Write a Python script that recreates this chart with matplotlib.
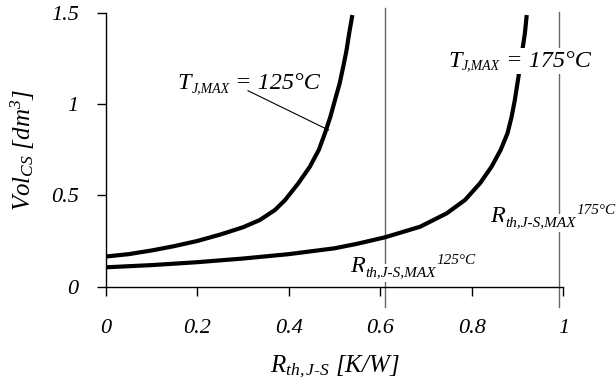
import matplotlib
matplotlib.use("Agg")
import matplotlib.pyplot as plt

plt.rcParams['font.family'] = ['Liberation Serif', 'DejaVu Serif']
plt.rcParams['font.style'] = 'italic'
plt.rcParams['mathtext.fontset'] = 'custom'
plt.rcParams['mathtext.it'] = 'Liberation Serif:italic'
plt.rcParams['mathtext.rm'] = 'Liberation Serif:italic'
plt.rcParams['mathtext.default'] = 'it'

# Data
rth_125 = [0.0, 0.05, 0.10, 0.15, 0.20, 0.25, 0.30, 0.337, 0.37, 0.392, 0.421,
           0.446, 0.466, 0.479, 0.491, 0.501, 0.511, 0.519, 0.526, 0.532, 0.539]
vol_125 = [0.165, 0.178, 0.198, 0.222, 0.25, 0.285, 0.325, 0.365, 0.42, 0.474, 0.566,
           0.656, 0.75, 0.839, 0.93, 1.021, 1.11, 1.203, 1.29, 1.386, 1.486]

rth_175 = [0.0, 0.10, 0.20, 0.30, 0.40, 0.50, 0.55, 0.61, 0.687, 0.745, 0.785,
           0.818, 0.843, 0.863, 0.878, 0.887, 0.894, 0.902, 0.909, 0.916, 0.920]
vol_175 = [0.106, 0.118, 0.134, 0.154, 0.178, 0.21, 0.235, 0.27, 0.328, 0.401, 0.474,
           0.566, 0.656, 0.748, 0.839, 0.93, 1.021, 1.149, 1.27, 1.386, 1.486]

rth_max = [0.610, 0.990]
vline_top = [1.523, 1.501]
vline_bottom = -0.109

xticks = [0, 0.2, 0.4, 0.6, 0.8, 1.0]
xticklabels = ['0', '0.2', '0.4', '0.6', '0.8', '1']
yticks = [0, 0.5, 1.0, 1.5]
yticklabels = ['0', '0.5', '1', '1.5']

fig = plt.figure(figsize=(6.16, 3.87), dpi=100)
ax = fig.add_axes([0.1716, 0.2592, 0.7429, 0.7085])

ax.plot(rth_125, vol_125, color='black', lw=3, solid_capstyle='butt',
        solid_joinstyle='round', zorder=3)
ax.plot(rth_175, vol_175, color='black', lw=3, solid_capstyle='butt',
        solid_joinstyle='round', zorder=3)

for xv, top in zip(rth_max, vline_top):
    ax.plot([xv, xv], [vline_bottom, top], color='#666666', lw=1.0, clip_on=False, zorder=2)

ax.set_xlim(0, 1.0)
ax.set_ylim(0, 1.5)
ax.set_xticks(xticks)
ax.set_xticklabels(xticklabels)
ax.set_yticks(yticks)
ax.set_yticklabels(yticklabels)
for s in ['top', 'right']:
    ax.spines[s].set_visible(False)
for s in ['left', 'bottom']:
    ax.spines[s].set_linewidth(1.0)
ax.tick_params(axis='both', direction='out', length=6.5, width=1.0, labelsize=16)
ax.tick_params(axis='x', pad=17)
ax.tick_params(axis='y', pad=13)

ax.set_xlabel(r'$R_{th,J\text{-}S}$ [K/W]', fontsize=18, labelpad=11)
ax.set_ylabel(r'$Vol_{CS}$ [dm$^3$]', fontsize=18, labelpad=10)


def rich(x, y, parts, white):
    """parts: list of (text, fontsize, baseline offset in points, x gap in points)."""
    prev = None
    for i, (s, size, dy, dx) in enumerate(parts):
        bb = dict(facecolor='white', edgecolor='none', pad=1.5) if white else None
        z = 5 + (i % 2)
        if prev is None:
            prev = ax.text(x, y, s, fontsize=size, ha='left', va='baseline', zorder=z,
                           bbox=bb, clip_on=False)
        else:
            prev = ax.annotate(s, xy=(1, y), xycoords=(prev, 'data'), xytext=(dx, dy),
                               textcoords='offset points', fontsize=size, ha='left',
                               va='baseline', zorder=z, bbox=bb, annotation_clip=False)
    return prev


rich(0.156, 1.080, [('T', 17.5, 0, 0), ('J,MAX', 10, -2, 0.5), (' = 125°C', 17.5, 0, 0)], False)
ax.plot([0.311, 0.487], [1.072, 0.857], color='black', lw=0.8, zorder=4)
rich(0.748, 1.204, [('T', 17.5, 0, 0), ('J,MAX', 10, -2, 0.5), (' = 175°C', 17.5, 0, 0)], True)

rich(0.840, 0.356, [('R', 17.5, 0, 0), ('th,J-S,MAX', 11, -3.5, 0.3), ('175°C', 11, 5.5, 0)], True)
rich(0.534, 0.082, [('R', 17.5, 0, 0), ('th,J-S,MAX', 11, -3.5, 0.3), ('125°C', 11, 5.5, 0)], True)

fig.savefig('out.png', dpi=100)
